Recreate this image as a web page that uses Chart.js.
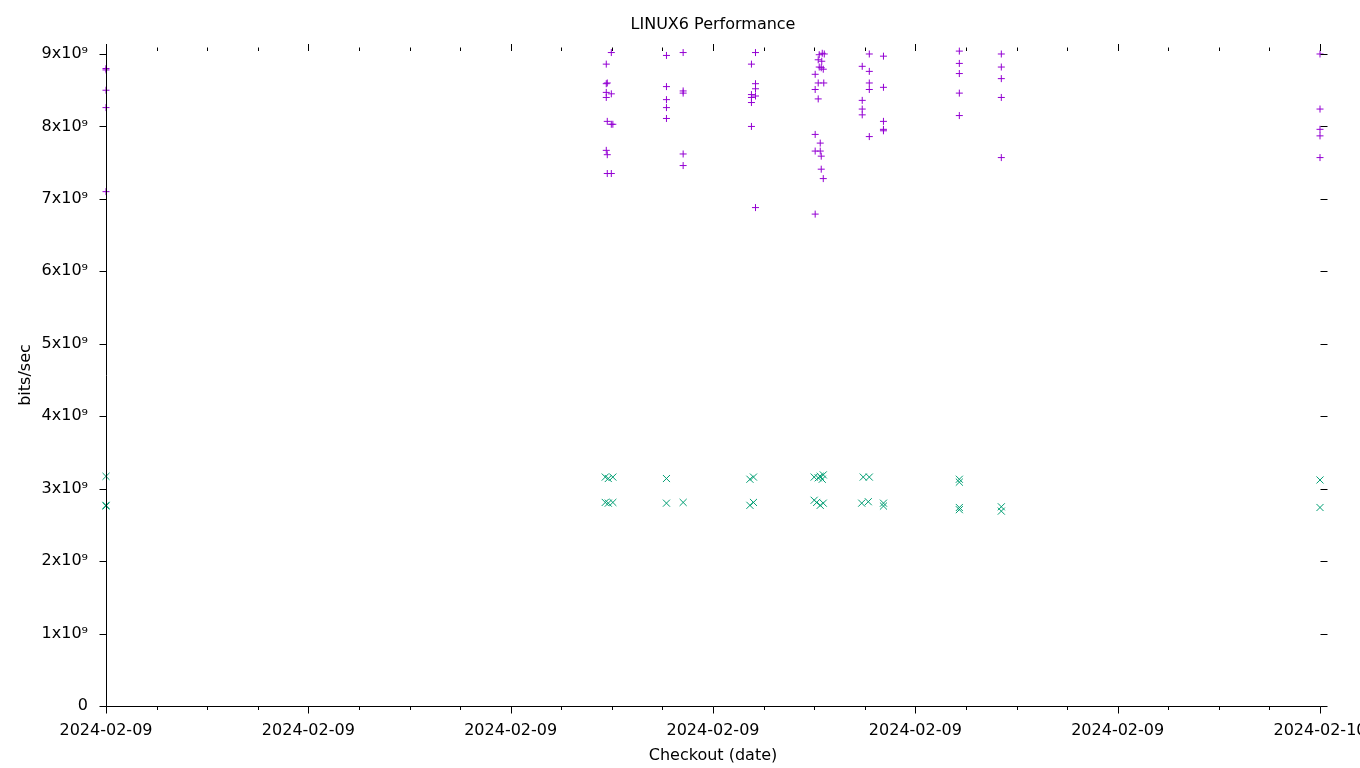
<!DOCTYPE html>
<html><head><meta charset="utf-8">
<script src="https://cdn.jsdelivr.net/npm/chart.js@4"></script>
<style>html,body{margin:0;padding:0;background:#fff}#wrap{width:1360px;height:768px;position:relative}</style>
</head><body><div id="wrap"><canvas id="c"></canvas></div>
<script>
const chartTitle = 'LINUX6 Performance';
const xAxisTitle = 'Checkout (date)';
const yAxisTitle = 'bits/sec';
const xTickHours = [0, 4, 8, 12, 16, 20, 24];
const xTickLabels = ['2024-02-09', '2024-02-09', '2024-02-09', '2024-02-09', '2024-02-09', '2024-02-09', '2024-02-10'];
const yTickValues = [0, 1, 2, 3, 4, 5, 6, 7, 8, 9];
const yTickLabels = ['0', '1x10⁹', '2x10⁹', '3x10⁹', '4x10⁹', '5x10⁹', '6x10⁹', '7x10⁹', '8x10⁹', '9x10⁹'];

// series 1 ("+" marks): hour of day, value in 10^9 bits/sec
const plusHours = [
  0, 0, 0, 0, 0,
  9.89, 9.89, 9.89, 9.89, 9.89,
  9.91, 9.91, 9.91, 9.91,
  9.99, 9.99, 9.99, 9.99,
  10.02,
  11.08, 11.08, 11.08, 11.08, 11.08,
  11.41, 11.41, 11.41, 11.41, 11.41,
  12.76, 12.76, 12.76, 12.76, 12.76,
  12.84, 12.84, 12.84, 12.84, 12.84,
  14.02, 14.02, 14.02, 14.02, 14.02,
  14.08, 14.08, 14.08,
  14.10, 14.10,
  14.12, 14.12,
  14.14, 14.14, 14.14,
  14.15, 14.16,
  14.18, 14.18,
  14.19, 14.20,
  14.95, 14.95, 14.95, 14.95,
  15.09, 15.09, 15.09, 15.09, 15.09,
  15.37, 15.37, 15.37, 15.37, 15.37,
  16.87, 16.87, 16.87, 16.87, 16.87,
  17.70, 17.70, 17.70, 17.70, 17.70,
  24, 24, 24, 24, 24
];
const plusValues = [
  8.80, 8.78, 8.50, 8.26, 7.10,
  8.86, 8.59, 8.47, 8.40, 7.67,
  8.60, 8.07, 7.61, 7.35,
  9.02, 8.45, 8.03, 7.35,
  8.03,
  8.98, 8.55, 8.37, 8.26, 8.11,
  9.02, 8.49, 8.46, 7.62, 7.46,
  8.86, 8.44, 8.40, 8.33, 8.00,
  9.02, 8.59, 8.52, 8.42, 6.88,
  8.72, 8.51, 7.89, 7.66, 6.79,
  8.92, 8.60, 8.38,
  8.99, 8.82,
  7.77, 7.66,
  8.81, 7.59, 7.41,
  8.90, 9.01,
  8.79, 7.28,
  8.60, 9.00,
  8.83, 8.36, 8.24, 8.16,
  9.00, 8.76, 8.60, 8.51, 7.86,
  8.97, 8.54, 8.07, 7.96, 7.94,
  9.04, 8.87, 8.73, 8.46, 8.15,
  9.00, 8.82, 8.66, 8.40, 7.57,
  9.00, 8.24, 7.96, 7.87, 7.57
];

// series 2 ("x" marks): hour of day, value in 10^9 bits/sec
const crossHours = [
  0, 0, 0,
  9.87, 9.87,
  9.93, 9.93,
  10.02, 10.02,
  11.08, 11.08,
  11.41,
  12.73, 12.73,
  12.80, 12.80,
  14.00, 14.00,
  14.05, 14.08,
  14.12, 14.12,
  14.16,
  14.18, 14.18,
  14.97, 14.94, 15.07, 15.09,
  15.37, 15.37,
  16.87, 16.87, 16.87, 16.87,
  17.70, 17.70,
  24, 24
];
const crossValues = [
  3.17, 2.77, 2.76,
  3.16, 2.81,
  3.14, 2.80,
  3.16, 2.81,
  3.14, 2.80,
  2.81,
  3.13, 2.77,
  3.16, 2.81,
  3.16, 2.84,
  2.81, 3.15,
  3.17, 2.77,
  3.13,
  3.19, 2.80,
  3.16, 2.80, 2.82, 3.16,
  2.80, 2.76,
  3.13, 3.09, 2.74, 2.71,
  2.75, 2.69,
  3.12, 2.74
];

const FONT = {family: "'DejaVu Sans', sans-serif", size: 16};
const toPts = (xs, ys) => xs.map((x, i) => ({x: x, y: ys[i]}));

const gnuAxes = {
  id: 'gnuAxes',
  afterDraw(chart) {
    const {ctx, chartArea: a, scales: {x, y}} = chart;
    const L = 7, M = 3.5;
    ctx.save();
    ctx.strokeStyle = '#000';
    ctx.lineWidth = 1;
    ctx.beginPath();
    const lx = Math.round(a.left) + 0.5, by = Math.round(a.bottom) + 0.5;
    const rx = Math.round(a.right) + 0.5, ty = Math.round(a.top);
    ctx.moveTo(lx, ty); ctx.lineTo(lx, by); ctx.lineTo(rx, by);
    yTickValues.forEach(v => {
      const py = Math.round(y.getPixelForValue(v)) + 0.5;
      ctx.moveTo(lx - L, py); ctx.lineTo(lx, py);
      ctx.moveTo(rx, py); ctx.lineTo(rx + L, py);
    });
    for (let h = x.min; h <= x.max; h += 1) {
      const px = Math.round(x.getPixelForValue(h)) + 0.5;
      const major = xTickHours.includes(h);
      const len = major ? L : M;
      ctx.moveTo(px, by); ctx.lineTo(px, by + len);
      ctx.moveTo(px, ty + L - len); ctx.lineTo(px, ty + L);
    }
    ctx.stroke();
    ctx.restore();
  }
};

new Chart(document.getElementById('c'), {
  type: 'scatter',
  data: {
    datasets: [
      {label: 'plus', data: toPts(plusHours, plusValues), pointStyle: 'cross', pointRadius: 3.5,
       pointHoverRadius: 3.5, borderColor: '#9400d3', backgroundColor: '#9400d3', borderWidth: 1, pointBorderWidth: 1, clip: false},
      {label: 'cross', data: toPts(crossHours, crossValues), pointStyle: 'crossRot', pointRadius: 5,
       pointHoverRadius: 5, borderColor: '#009e73', backgroundColor: '#009e73', borderWidth: 1, pointBorderWidth: 1, clip: false}
    ]
  },
  options: {
    animation: false,
    responsive: true,
    maintainAspectRatio: false,
    events: [],
    layout: {padding: {left: 0, right: 40, top: 0, bottom: 0}},
    plugins: {
      legend: {display: false},
      tooltip: {enabled: false},
      title: {display: true, text: chartTitle, fullSize: false, color: '#000', font: {...FONT, weight: 'normal'},
              padding: {top: 15, bottom: 9.8}}
    },
    scales: {
      x: {
        type: 'linear', min: 0, max: 24,
        afterBuildTicks: s => { s.ticks = xTickHours.map(v => ({value: v})); },
        afterFit: s => { s.height = 62; s.paddingLeft = 0; s.paddingRight = 0; },
        ticks: {callback: v => xTickLabels[xTickHours.indexOf(v)], autoSkip: false, maxRotation: 0, minRotation: 0,
                padding: 15, color: '#000', font: FONT},
        grid: {display: false, drawTicks: false},
        border: {display: false},
        title: {display: true, text: xAxisTitle, color: '#000', font: FONT, padding: {top: 0, bottom: 2.4}}
      },
      y: {
        type: 'linear', min: 0, max: 9.138,
        afterBuildTicks: s => { s.ticks = yTickValues.map(v => ({value: v})); },
        afterFit: s => { s.width = 106; s.paddingTop = 0; s.paddingBottom = 0; },
        ticks: {callback: v => yTickLabels[yTickValues.indexOf(v)], autoSkip: false, padding: 18, color: '#000', font: FONT},
        grid: {display: false, drawTicks: false},
        border: {display: false},
        title: {display: true, text: yAxisTitle, color: '#000', font: FONT, padding: {top: 16, bottom: 0}}
      }
    }
  },
  plugins: [gnuAxes]
});
</script>
</body></html>
